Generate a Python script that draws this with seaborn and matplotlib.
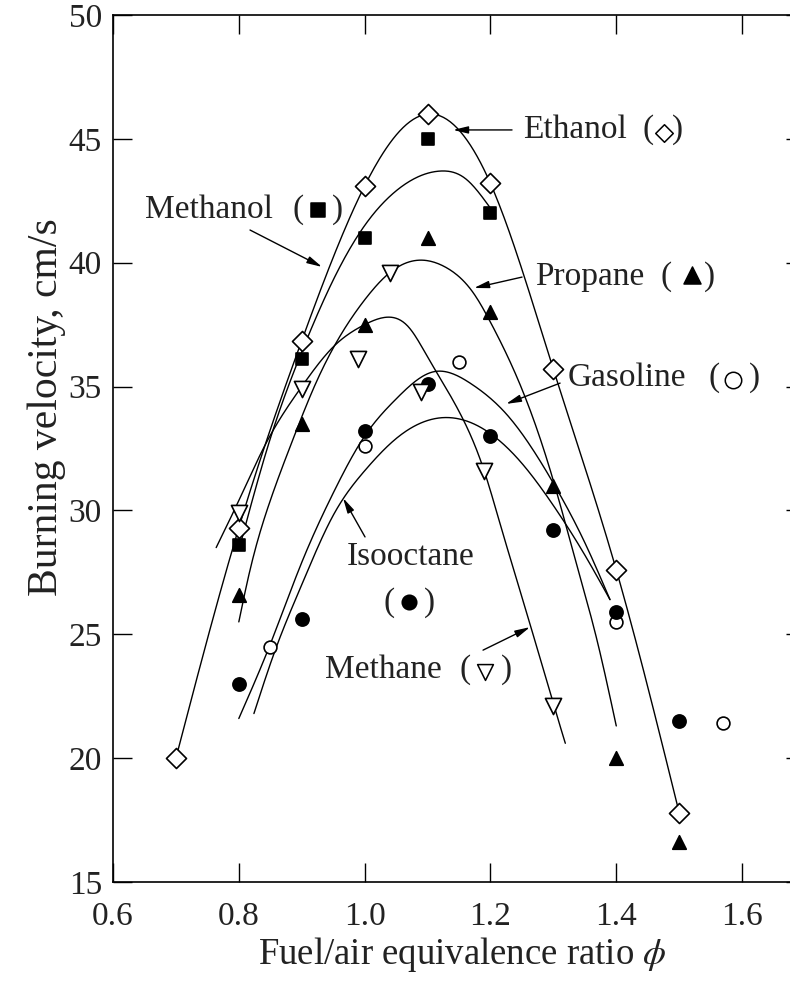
import numpy as np
import matplotlib
matplotlib.use("Agg")
import matplotlib.pyplot as plt
import seaborn as sns

# ---- measured burning velocities (cm/s) vs. fuel/air equivalence ratio ----
ethanol_phi = [0.70, 0.80, 0.90, 1.00, 1.10, 1.20, 1.30, 1.40, 1.50]
ethanol_su = [20.0, 29.3, 36.85, 43.1, 46.0, 43.2, 35.7, 27.6, 17.8]

methanol_phi = [0.80, 0.90, 1.00, 1.10, 1.20]
methanol_su = [28.6, 36.1, 41.0, 45.0, 42.0]

propane_phi = [0.80, 0.90, 1.00, 1.10, 1.20, 1.30, 1.40, 1.50]
propane_su = [26.6, 33.5, 37.5, 41.0, 38.0, 31.0, 20.0, 16.6]

gasoline_phi = [0.85, 1.00, 1.15, 1.40, 1.57]
gasoline_su = [24.5, 32.6, 36.0, 25.5, 21.4]

isooctane_phi = [0.80, 0.90, 1.00, 1.10, 1.20, 1.30, 1.40, 1.50]
isooctane_su = [23.0, 25.6, 33.2, 35.1, 33.0, 29.2, 25.9, 21.5]

methane_phi = [0.80, 0.90, 0.99, 1.04, 1.09, 1.19, 1.30]
methane_su = [29.9, 34.9, 36.1, 39.6, 34.8, 31.6, 22.1]

# ---- hand-drawn trend curves, traced as knots ----
ethanol_curve_phi = ethanol_phi
ethanol_curve_su = ethanol_su

methanol_curve_phi = [0.80, 0.85, 0.90, 0.95, 1.00, 1.05, 1.12, 1.16, 1.20]
methanol_curve_su = [28.4, 32.9, 36.4, 39.3, 41.5, 42.9, 43.7, 43.4, 42.2]

propane_curve_phi = [0.80, 0.816, 0.85, 0.885, 0.92, 0.96, 1.00, 1.04, 1.085,
                     1.13, 1.175, 1.20, 1.25, 1.30, 1.335, 1.37, 1.40]
propane_curve_su = [25.5, 27.4, 30.4, 32.8, 35.0, 37.0, 38.5, 39.6, 40.1,
                    39.8, 38.7, 37.6, 34.9, 31.2, 28.0, 24.7, 21.3]

gasoline_curve_phi = [0.80, 0.85, 0.90, 0.95, 1.00, 1.05, 1.11, 1.17, 1.225,
                      1.30, 1.35, 1.39]
gasoline_curve_su = [21.6, 24.6, 27.9, 30.7, 33.0, 34.5, 35.6, 35.1, 33.9,
                     31.1, 28.7, 26.4]

isooctane_curve_phi = [0.824, 0.857, 0.90, 0.95, 1.00, 1.05, 1.13, 1.20, 1.25,
                       1.30, 1.35, 1.39]
isooctane_curve_su = [21.8, 24.3, 27.0, 29.8, 31.6, 32.9, 33.75, 33.1, 31.9,
                      30.2, 28.2, 26.4]

methane_curve_phi = [0.764, 0.80, 0.843, 0.90, 0.95, 1.00, 1.035, 1.07, 1.10,
                     1.15, 1.19, 1.216, 1.263, 1.30, 1.319]
methane_curve_su = [28.5, 30.4, 32.7, 35.0, 36.6, 37.5, 37.8, 37.4, 36.2,
                    34.0, 31.6, 29.4, 25.4, 22.2, 20.6]

x_ticks = [0.6, 0.8, 1.0, 1.2, 1.4, 1.6]
y_ticks = [15, 20, 25, 30, 35, 40, 45, 50]


def smooth(xk, yk, n=300):
    """Natural cubic spline through the traced knots (for drawing only)."""
    x = np.asarray(xk, float)
    y = np.asarray(yk, float)
    m = len(x)
    h = np.diff(x)
    A = np.zeros((m, m))
    r = np.zeros(m)
    A[0, 0] = A[-1, -1] = 1.0
    for i in range(1, m - 1):
        A[i, i - 1] = h[i - 1]
        A[i, i] = 2 * (h[i - 1] + h[i])
        A[i, i + 1] = h[i]
        r[i] = 6 * ((y[i + 1] - y[i]) / h[i] - (y[i] - y[i - 1]) / h[i - 1])
    M = np.linalg.solve(A, r)
    xs = np.linspace(x[0], x[-1], n)
    idx = np.clip(np.searchsorted(x, xs) - 1, 0, m - 2)
    x0, x1 = x[idx], x[idx + 1]
    hh = x1 - x0
    t0, t1 = x1 - xs, xs - x0
    ys = (M[idx] * t0 ** 3 + M[idx + 1] * t1 ** 3) / (6 * hh) \
        + (y[idx] / hh - M[idx] * hh / 6) * t0 \
        + (y[idx + 1] / hh - M[idx + 1] * hh / 6) * t1
    return xs, ys


sns.set_style("ticks")
plt.rcParams["font.family"] = ["Liberation Serif", "DejaVu Sans"]
plt.rcParams["mathtext.fontset"] = "stix"

W, H = 790, 986
fig = plt.figure(figsize=(W / 100, H / 100), dpi=100)
ax = fig.add_axes([113 / W, (H - 882) / H, 692 / W, 867 / H])

curves = [
    (ethanol_curve_phi, ethanol_curve_su),
    (methanol_curve_phi, methanol_curve_su),
    (propane_curve_phi, propane_curve_su),
    (gasoline_curve_phi, gasoline_curve_su),
    (isooctane_curve_phi, isooctane_curve_su),
    (methane_curve_phi, methane_curve_su),
]
for cx, cy in curves:
    xs, ys = smooth(cx, cy)
    ax.plot(xs, ys, color="black", lw=1.0, zorder=2)

# (phi, su, marker, size, face) for each fuel
series = [
    (ethanol_phi, ethanol_su, "D", 104, "white"),
    (methanol_phi, methanol_su, "s", 85, "black"),
    (propane_phi, propane_su, "^", 95, "black"),
    (gasoline_phi, gasoline_su, "o", 85, "white"),
    (isooctane_phi, isooctane_su, "o", 90, "black"),
    (methane_phi, methane_su, "v", 135, "white"),
]
for px, py, mk, size, face in series:
    sns.scatterplot(x=px, y=py, marker=mk, s=size, color=face,
                    edgecolor="black", linewidth=1.2, zorder=3, ax=ax)

ax.set_xlim(0.6, 1.7)
ax.set_ylim(15, 50)
ax.set_xticks(x_ticks)
ax.set_yticks(y_ticks)
ax.set_xticklabels([f"{v:.1f}" for v in x_ticks])
ax.set_yticklabels([str(v) for v in y_ticks])
ax.tick_params(direction="in", length=14, width=1.0, top=True, right=True,
               labelsize=24, color="black", labelcolor="#222222")
ax.tick_params(axis="x", pad=14)
ax.tick_params(axis="y", pad=8)
for s in ax.spines.values():
    s.set_linewidth(1.2)
    s.set_color("black")

fs = 24
tc = "#222222"
arrow = dict(arrowstyle="-|>,head_length=0.5,head_width=0.12", lw=1.0,
             color="black", shrinkA=0, shrinkB=0, mutation_scale=18)


def key_symbol(x_open, y, sym_x, sym_y, marker, size, face, x_close):
    """Plotting symbol enclosed in parentheses after a fuel name."""
    ax.text(x_open, y, "(", fontsize=fs, ha="left", va="center", color=tc)
    ax.scatter([sym_x], [sym_y], marker=marker, s=size, c=face,
               edgecolors="black", linewidths=1.1, zorder=4)
    ax.text(x_close, y, ")", fontsize=fs, ha="right", va="center", color=tc)


# Ethanol
ax.text(1.252, 45.36, "Ethanol", fontsize=fs, ha="left", va="center", color=tc)
key_symbol(1.4420, 45.36, 1.4760, 45.24, "D", 80, "white", 1.5062)
ax.annotate("", xy=(1.1405, 45.36), xytext=(1.2343, 45.36), arrowprops=arrow)

# Methanol
ax.text(0.651, 42.13, "Methanol", fontsize=fs, ha="left", va="center", color=tc)
key_symbol(0.8846, 42.13, 0.9262, 42.13, "s", 115, "black", 0.9657)
ax.annotate("", xy=(0.9323, 39.83), xytext=(0.8178, 41.32), arrowprops=arrow)

# Propane
ax.text(1.271, 39.42, "Propane", fontsize=fs, ha="left", va="center", color=tc)
key_symbol(1.4696, 39.42, 1.5205, 39.50, "^", 150, "black", 1.5571)
ax.annotate("", xy=(1.1739, 38.98), xytext=(1.2502, 39.42), arrowprops=arrow)

# Gasoline
ax.text(1.3234, 35.35, "Gasoline", fontsize=fs, ha="left", va="center", color=tc)
key_symbol(1.5459, 35.35, 1.5857, 35.26, "o", 140, "white", 1.6286)
ax.annotate("", xy=(1.2248, 34.30), xytext=(1.3107, 35.14), arrowprops=arrow)

# Isooctane (symbol on a second line)
ax.text(1.0738, 28.12, "Isooctane", fontsize=fs, ha="center", va="center", color=tc)
key_symbol(1.0293, 26.26, 1.0706, 26.30, "o", 110, "black", 1.1119)
ax.annotate("", xy=(0.9657, 30.50), xytext=(1.0006, 28.93), arrowprops=arrow)

# Methane
ax.text(0.937, 23.56, "Methane", fontsize=fs, ha="left", va="center", color=tc)
key_symbol(1.1501, 23.56, 1.1914, 23.48, "v", 130, "white", 1.2343)
ax.annotate("", xy=(1.2629, 25.29), xytext=(1.1882, 24.36), arrowprops=arrow)

fig.text(47 / W, (H - 407) / H, "Burning velocity, cm/s", rotation=90,
         fontsize=30, ha="center", va="center", color=tc)
fig.text(462 / W, (H - 955) / H, r"Fuel/air equivalence ratio $\phi$",
         fontsize=26.5, ha="center", va="center", color=tc)

fig.savefig("out.png", dpi=100)
